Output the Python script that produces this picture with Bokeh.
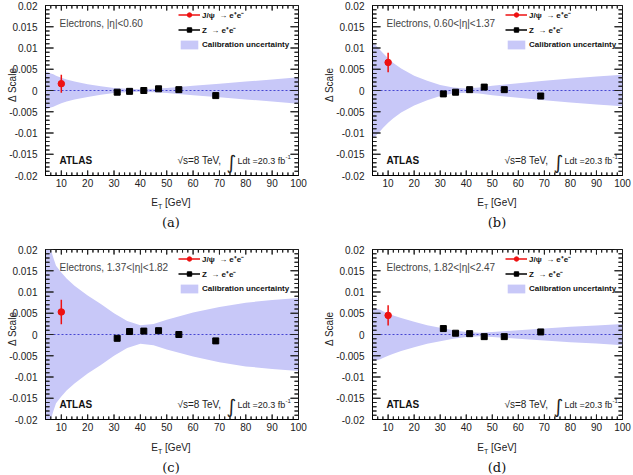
import numpy as np
from bokeh.plotting import figure
from bokeh.models import (FixedTicker, CustomJSTickFormatter, LinearAxis, Label,
                          Legend, LegendItem, Range1d, Div)
from bokeh.layouts import column, row
from bokeh.embed import file_html
from bokeh.resources import INLINE

# ---- data -------------------------------------------------------------
# E_T points at which the calibration-uncertainty half-width is given
band_et = [4, 5, 6, 7, 8, 10, 12, 15, 20, 25, 30, 35, 40, 45, 50, 60, 70, 80, 90, 100]

# half-width of the calibration uncertainty band, per |eta| bin
band_a = [0.0045, 0.0043, 0.0040, 0.0038, 0.0035, 0.0030, 0.0026, 0.0021, 0.0015, 0.0010,
          0.0006, 0.0004, 0.0003, 0.0004, 0.0006, 0.0011, 0.0016, 0.0021, 0.0026, 0.0031]
band_b = [0.0109, 0.0108, 0.0102, 0.0095, 0.0088, 0.0076, 0.0065, 0.0052, 0.0035, 0.0023,
          0.0013, 0.0007, 0.0005, 0.0007, 0.0011, 0.0017, 0.0023, 0.0028, 0.0033, 0.0037]
band_c = [0.0240, 0.0220, 0.0200, 0.0180, 0.0162, 0.0146, 0.0132, 0.0115, 0.0092, 0.0072,
          0.0050, 0.0032, 0.0022, 0.0025, 0.0035, 0.0052, 0.0065, 0.0075, 0.0081, 0.0086]
band_d = [0.0062, 0.0062, 0.0060, 0.0058, 0.0055, 0.0050, 0.0045, 0.0039, 0.0030, 0.0022,
          0.0016, 0.0010, 0.0006, 0.0004, 0.0006, 0.0010, 0.0014, 0.0018, 0.0021, 0.0025]

# J/psi -> ee point
jpsi_et = [10.0]
jpsi_a, jpsi_err_a = [0.0016], [0.0021]
jpsi_b, jpsi_err_b = [0.0066], [0.0023]
jpsi_c, jpsi_err_c = [0.0053], [0.0029]
jpsi_d, jpsi_err_d = [0.0045], [0.0024]

# Z -> ee points
z_et = [31.2, 35.9, 41.3, 46.9, 54.6, 68.6]
z_a = [-0.0004, -0.0002, 0.0000, 0.0004, 0.0002, -0.0012]
z_b = [-0.0008, -0.0004, 0.0002, 0.0008, 0.0002, -0.0013]
z_c = [-0.0009, 0.0007, 0.0008, 0.0009, 0.0000, -0.0015]
z_d = [0.0014, 0.0003, 0.0002, -0.0005, -0.0005, 0.0006]
z_err = [0.0002, 0.0001, 0.0001, 0.0001, 0.0001, 0.0002]

# axis ranges and ticks
x_lo, x_hi = 4, 100
y_lo, y_hi = -0.02, 0.02
x_major = [10, 20, 30, 40, 50, 60, 70, 80, 90, 100]
x_minor = list(range(4, 101, 2))
y_major = [-0.02, -0.015, -0.01, -0.005, 0.0, 0.005, 0.01, 0.015, 0.02]
y_minor = [round(v * 0.001, 3) for v in range(-20, 21)]

eta_texts = ["Electrons, |\u03b7|<0.60", "Electrons, 0.60<|\u03b7|<1.37",
             "Electrons, 1.37<|\u03b7|<1.82", "Electrons, 1.82<|\u03b7|<2.47"]

BAND = "#c8c8f8"
SANS = "Liberation Sans"
TICK = "#222222"


def comb(positions, majors, base, sign, major_len, minor_len):
    """One continuous path running along an edge with a tooth at every tick."""
    along, across = [], []
    for t in sorted(set(positions) | set(majors)):
        length = major_len if t in majors else minor_len
        along += [t, t, t]
        across += [base, base + sign * length, base]
    return along, across


def inner_ticks(p, frame_w, frame_h):
    """ROOT-style tick marks pointing into the frame on all four edges."""
    dx = (x_hi - x_lo) / frame_w   # data units per pixel
    dy = (y_hi - y_lo) / frame_h
    for base, sign in ((y_lo, 1), (y_hi, -1)):
        xs, ys = comb(x_minor, x_major, base, sign, 5 * dy, 3 * dy)
        p.line(x=xs, y=ys, line_color=TICK, line_width=1)
    for base, sign in ((x_lo, 1), (x_hi, -1)):
        ys, xs = comb(y_minor, y_major, base, sign, 8 * dx, 4 * dx)
        p.line(x=xs, y=ys, line_color=TICK, line_width=1)


def make_panel(eta_text, band, jy, je, zy, width, height, left, right, top, bottom):
    p = figure(width=width, height=height, x_range=Range1d(x_lo, x_hi),
               y_range=Range1d(y_lo, y_hi),
               output_backend="svg", toolbar_location=None,
               x_axis_location=None, y_axis_location=None,
               min_border_left=left, min_border_right=right,
               min_border_top=top, min_border_bottom=bottom)
    p.xgrid.visible = False
    p.ygrid.visible = False
    p.outline_line_color = "black"
    p.outline_line_width = 1
    p.background_fill_color = "white"
    p.border_fill_color = "white"

    band_r = p.varea(x=band_et, y1=[-h for h in band], y2=band, fill_color=BAND, fill_alpha=1.0)
    p.hspan(y=[0.0], line_color="#4646d2", line_width=1.2, line_dash="2 2")

    zseg = p.segment(x0=z_et, y0=[v - e for v, e in zip(zy, z_err)],
                     x1=z_et, y1=[v + e for v, e in zip(zy, z_err)],
                     line_color="black", line_width=1.5)
    zsq = p.scatter(x=z_et, y=zy, marker="square", size=6, color="black")
    jseg = p.segment(x0=jpsi_et, y0=[jy[0] - je[0]], x1=jpsi_et, y1=[jy[0] + je[0]],
                     line_color="#ee1111", line_width=1.5)
    jdot = p.scatter(x=jpsi_et, y=jy, marker="circle", size=6.5, color="#ee1111")

    inner_ticks(p, width - left - right, height - top - bottom)

    xt = FixedTicker(ticks=x_major, minor_ticks=[])
    yt = FixedTicker(ticks=y_major, minor_ticks=[])
    yfmt = CustomJSTickFormatter(code="return String(parseFloat(tick.toFixed(3)))")

    common = dict(axis_line_color="black", major_tick_line_color=None,
                  minor_tick_line_color=None, major_tick_in=0, major_tick_out=0,
                  minor_tick_in=0, minor_tick_out=0,
                  major_label_text_font=SANS, major_label_text_font_size="10px",
                  major_label_text_color="#222222")
    p.add_layout(LinearAxis(ticker=xt, major_label_standoff=3, **common), "below")
    p.add_layout(LinearAxis(ticker=yt, formatter=yfmt, major_label_standoff=8, **common), "left")

    legend = Legend(items=[
        LegendItem(label="J/\u03c8  \u2192 e\u207ae\u207b", renderers=[jseg, jdot]),
        LegendItem(label="Z  \u2192 e\u207ae\u207b", renderers=[zseg, zsq]),
        LegendItem(label="Calibration uncertainty", renderers=[band_r]),
    ], location=(133, 125), glyph_width=22, glyph_height=11, label_height=11,
        spacing=4, padding=0, margin=0, label_standoff=2,
        label_text_font=SANS, label_text_font_size="8px", label_text_font_style="bold",
        label_text_color="#111111", border_line_color=None, background_fill_alpha=0)
    p.add_layout(legend)

    def lab(x, y, text, size="10px", font=SANS, style="normal", align="left",
            baseline="middle", color="#333333"):
        p.add_layout(Label(x=x, y=y, x_units="screen", y_units="screen", text=text,
                           text_font=font, text_font_size=size, text_font_style=style,
                           text_align=align, text_baseline=baseline, text_color=color))

    lab(14, 152, eta_text, size="10px", color="#444444")
    lab(14, 15, "ATLAS", size="10px", style="bold", color="#111111")
    lab(132, 15, "\u221as=8 TeV,", size="10px", color="#222222")
    lab(181, 14, "\u222b", size="19px", font="DejaVu Sans", color="#222222")
    lab(192, 15, "Ldt =20.3 fb", size="9px", color="#222222")
    lab(240, 19, "-1", size="6px", color="#222222")
    return p


def caption(tag, width, height, cx, y_title, y_tag, ylabel_at):
    """Axis titles and panel tag; the y title is lifted up beside the frame."""
    side = (f'<div style="position:absolute;left:{ylabel_at[0] - 30}px;width:60px;'
            f'top:{ylabel_at[1] - 7}px;height:14px;line-height:14px;font-size:10px;'
            f'text-align:center;white-space:nowrap;transform:rotate(-90deg);">'
            f'\u0394 Scale</div>')
    html = (
        f'<div style="position:relative;width:{width}px;height:{height}px;overflow:visible;'
        f'font-family:\'Liberation Sans\';color:#222;">'
        f'<div style="position:absolute;left:{cx - 60}px;width:120px;top:{y_title - 6}px;'
        f'text-align:center;font-size:10px;line-height:14px;white-space:nowrap;">'
        f'E<span style="font-size:7px;position:relative;top:3px;">T</span> [GeV]</div>'
        f'<div style="position:absolute;left:{cx - 30}px;width:60px;top:{y_tag - 8}px;'
        f'text-align:center;font-family:\'DejaVu Serif\';font-size:13px;line-height:18px;'
        f'color:#111;">({tag})</div>{side}</div>'
    )
    return Div(text=html, width=width, height=height, margin=0,
               styles={"overflow": "visible"})


pa = make_panel(eta_texts[0], band_a, jpsi_a, jpsi_err_a, z_a, 316, 193, 45, 18, 5, 18)
pb = make_panel(eta_texts[1], band_b, jpsi_b, jpsi_err_b, z_b, 317, 193, 56, 11, 5, 18)
pc = make_panel(eta_texts[2], band_c, jpsi_c, jpsi_err_c, z_c, 316, 200, 45, 18, 12, 18)
pd = make_panel(eta_texts[3], band_d, jpsi_d, jpsi_err_d, z_d, 317, 200, 56, 11, 12, 18)

ca = caption("a", 316, 44, 171, 9, 29, (13, -108))
cb = caption("b", 317, 44, 181, 9, 29, (14, -108))
cc = caption("c", 316, 38, 171, 10, 30, (13, -108))
cd = caption("d", 317, 38, 181, 10, 30, (14, -108))

page = column(row(column(pa, ca, spacing=0), column(pb, cb, spacing=0), spacing=0),
              row(column(pc, cc, spacing=0), column(pd, cd, spacing=0), spacing=0),
              spacing=0)

open("out.html", "w").write(file_html(page, INLINE))
